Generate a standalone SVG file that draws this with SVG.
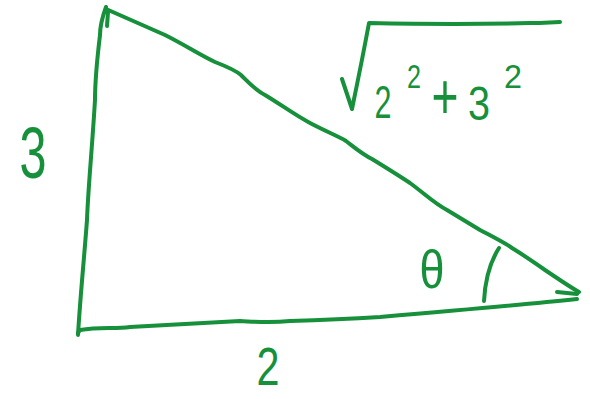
<svg xmlns="http://www.w3.org/2000/svg" width="590" height="399" viewBox="0 0 590 399">
<style>
.ln{fill:none;stroke:#16903a;stroke-width:4;stroke-linecap:round;stroke-linejoin:round}
.t{fill:#16903a;font-family:"Liberation Sans",Arial,sans-serif;text-anchor:middle}
</style>
<rect width="590" height="399" fill="#ffffff"/>
<g id="connectors">
<path id="left" class="ln" d="M106,7 C102,18 100,28 100,35 C97,60 95,80 95,100 C92,150 88,190 87,220 C84,260 80,300 78,335"/>
<path id="left-tick" class="ln" d="M108,12 L107,26"/>
<path id="bottom" class="ln" d="M78,333 L80,330 C100,327 115,329 130,327 C170,325 200,323 240,321 C260,322 270,323 290,321 C320,320 345,319 380,317 C450,311 520,305 577,299"/>
<path id="bottom-tick" class="ln" d="M557,292 L577,294"/>
<path id="hyp" class="ln" d="M106,9 L165,35 C185,45 200,55 215,62 C228,67 235,70 241,75 C249,83 255,90 265,95 C280,104 295,115 310,123 C325,131 340,137 346,141 C354,147 362,154 372,159 C385,167 398,175 410,183 C425,194 435,204 447,210 C460,218 470,224 480,230 C495,238 505,243 512,248 C525,256 535,263 545,270 C560,280 570,287 579,292"/>
<path id="arc" class="ln" d="M499,248 C490,262 485,282 484,301"/>
<path id="radical" class="ln" d="M342,79 L352,109 C358,80 364,50 369,23 C420,24 490,24 530,23 C545,23 552,22 560,22"/>
</g>
<g id="label-3"><text class="t" x="33" y="178" font-size="72" textLength="27" lengthAdjust="spacingAndGlyphs">3</text></g>
<g id="label-2"><text class="t" x="268" y="385" font-size="54" textLength="23" lengthAdjust="spacingAndGlyphs">2</text></g>
<g id="label-theta"><text class="t" x="432" y="288" font-size="54" textLength="25" lengthAdjust="spacingAndGlyphs">θ</text></g>
<g id="label-hyp">
<text class="t" x="383" y="118" font-size="46" textLength="17" lengthAdjust="spacingAndGlyphs">2</text>
<text class="t" x="414" y="88" font-size="34" textLength="14" lengthAdjust="spacingAndGlyphs">2</text>
<text class="t" x="445" y="119" font-size="64" textLength="27" lengthAdjust="spacingAndGlyphs">+</text>
<text class="t" x="479" y="120" font-size="48" textLength="22" lengthAdjust="spacingAndGlyphs">3</text>
<text class="t" x="513" y="88" font-size="34" textLength="18" lengthAdjust="spacingAndGlyphs">2</text>
</g>
</svg>
